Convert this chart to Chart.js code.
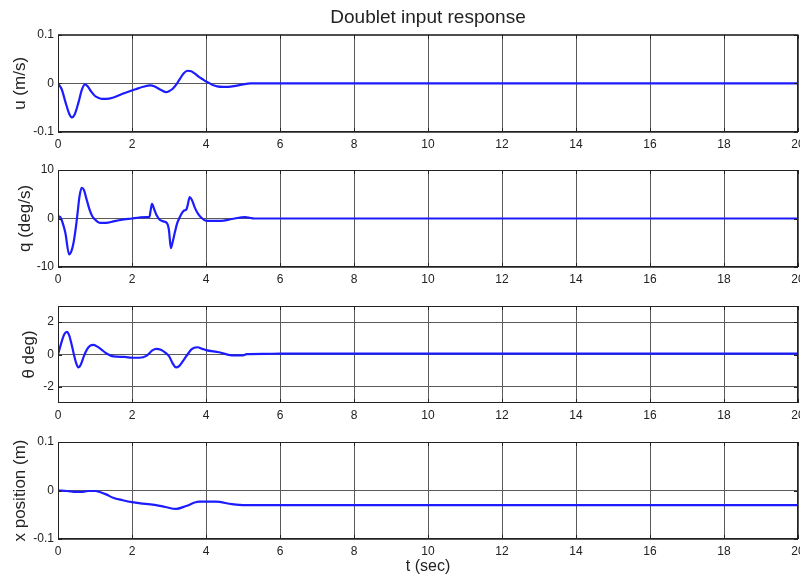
<!DOCTYPE html>
<html>
<head>
<meta charset="utf-8">
<title>Doublet input response</title>
<script src="https://cdn.jsdelivr.net/npm/chart.js@4.4.1/dist/chart.umd.min.js"></script>
<style>
  body { margin: 0; background: #fff; }
  .wrap { position: relative; width: 800px; height: 580px; overflow: hidden; }
  .wrap canvas { position: absolute; left: 0; }
</style>
</head>
<body>
<div class="wrap">
  <canvas id="uChart" width="800" height="157" style="top:0px"></canvas>
  <canvas id="qChart" width="800" height="132" style="top:160px"></canvas>
  <canvas id="thChart" width="800" height="132" style="top:296px"></canvas>
  <canvas id="xChart" width="800" height="148" style="top:432px"></canvas>
</div>
<script>
// time ticks
const timeTicks = [0, 2, 4, 6, 8, 10, 12, 14, 16, 18, 20];

// u (m/s)
const tU = [0, 0.1, 0.2, 0.3, 0.375, 0.45, 0.55, 0.65, 0.73, 0.8, 0.9, 1.0, 1.1, 1.2, 1.3, 1.5, 1.7, 1.9,
  2.1, 2.3, 2.5, 2.6, 2.7, 2.8, 2.92, 3.0, 3.1, 3.2, 3.3, 3.4, 3.5, 3.6, 3.7, 3.8, 3.9, 4.0, 4.1, 4.2,
  4.3, 4.45, 4.6, 4.8, 5.0, 5.2, 5.3, 20];
const uVals = [0, -0.012, -0.038, -0.062, -0.070, -0.064, -0.040, -0.012, -0.002, -0.006, -0.017, -0.026,
  -0.030, -0.032, -0.032, -0.029, -0.023, -0.017, -0.012, -0.007, -0.004, -0.006, -0.010, -0.014, -0.018,
  -0.016, -0.011, -0.002, 0.010, 0.021, 0.026, 0.025, 0.020, 0.014, 0.009, 0.004, 0.000, -0.004, -0.006,
  -0.007, -0.007, -0.005, -0.002, 0, 0, 0];
const uTicks = [-0.1, 0, 0.1];

// q (deg/s)
const tQ = [0, 0.06, 0.13, 0.2, 0.3, 0.36, 0.42, 0.48, 0.53, 0.58, 0.64, 0.7, 0.76, 0.85, 0.93, 1.0, 1.13,
  1.3, 1.5, 1.7, 2.0, 2.2, 2.38, 2.47, 2.5, 2.54, 2.6, 2.67, 2.74, 2.85, 2.95, 3.0, 3.05, 3.1, 3.16, 3.22,
  3.28, 3.34, 3.4, 3.47, 3.5, 3.56, 3.62, 3.7, 3.8, 3.9, 3.98, 4.1, 4.4, 4.7, 5.06, 5.2, 5.3, 20];
const qVals = [0.5, 0.3, -1.0, -3.0, -7.4, -6.8, -5.0, -2.0, 1.2, 4.5, 6.3, 5.9, 4.3, 1.9, 0.4, -0.2, -0.9,
  -0.9, -0.6, -0.3, 0, 0.2, 0.3, 0.3, 1.5, 3.0, 1.9, 0.6, -0.2, -0.6, -1.0, -2.5, -6.1, -4.8, -2.8, -1.0,
  0.1, 1.0, 1.6, 1.9, 2.6, 4.4, 3.8, 2.2, 0.8, 0, -0.4, -0.5, -0.5, -0.1, 0.3, 0.1, 0, 0];
const qTicks = [-10, 0, 10];

// theta (deg)
const tTh = [0, 0.1, 0.17, 0.24, 0.3, 0.36, 0.42, 0.48, 0.55, 0.62, 0.7, 0.78, 0.87, 0.96, 1.05, 1.15, 1.3,
  1.5, 1.8, 2.0, 2.2, 2.4, 2.55, 2.65, 2.78, 2.9, 3.0, 3.1, 3.19, 3.28, 3.38, 3.5, 3.6, 3.68, 3.77, 3.9,
  4.0, 4.35, 4.7, 5.0, 5.1, 5.6, 6.0, 20];
const thVals = [0, 0.8, 1.25, 1.4, 1.2, 0.7, 0.1, -0.45, -0.8, -0.6, -0.1, 0.3, 0.55, 0.6, 0.5, 0.35, 0.08,
  -0.12, -0.15, -0.2, -0.2, -0.07, 0.25, 0.35, 0.3, 0.12, -0.1, -0.55, -0.8, -0.7, -0.4, 0, 0.3, 0.42, 0.45,
  0.35, 0.27, 0.14, -0.05, -0.06, 0.02, 0.04, 0.05, 0.05];
const thTicks = [-2, 0, 2];

// x position (m)
const tX = [0, 0.24, 0.5, 0.64, 0.82, 1.0, 1.13, 1.3, 1.49, 1.75, 2.0, 2.3, 2.65, 2.9, 3.19, 3.46, 3.81,
  4.26, 4.7, 5.06, 20];
const xVals = [0, -0.001, -0.003, -0.003, -0.001, -0.001, -0.003, -0.008, -0.015, -0.020, -0.024, -0.027,
  -0.030, -0.034, -0.038, -0.032, -0.023, -0.023, -0.028, -0.030, -0.030];
const xTicks = [-0.1, 0, 0.1];

Chart.defaults.font.family = '"Liberation Sans", Arial, Helvetica, sans-serif';
Chart.defaults.color = '#222';

const LINE = '#1c1cff';
const GRID = '#5a5a5a';

// MATLAB style box with small inward ticks
const boxPlugin = {
  id: 'box',
  afterDraw(chart) {
    const { ctx, chartArea: a, scales } = chart;
    ctx.save();
    ctx.strokeStyle = '#222';
    ctx.lineWidth = 1;
    ctx.strokeRect(a.left + 0.5, a.top + 0.5, a.right - a.left - 1, a.bottom - a.top - 1);
    ctx.beginPath();
    scales.x.ticks.forEach(t => {
      const px = Math.round(scales.x.getPixelForValue(t.value)) + 0.5;
      ctx.moveTo(px, a.top); ctx.lineTo(px, a.top + 4);
      ctx.moveTo(px, a.bottom); ctx.lineTo(px, a.bottom - 4);
    });
    scales.y.ticks.forEach(t => {
      const py = Math.round(scales.y.getPixelForValue(t.value)) + 0.5;
      ctx.moveTo(a.left, py); ctx.lineTo(a.left + 4, py);
      ctx.moveTo(a.right, py); ctx.lineTo(a.right - 4, py);
    });
    ctx.stroke();
    ctx.restore();
  }
};

function makePanel(id, tArr, vArr, yMin, yMax, yTicks, yLabel, labelPad, opts) {
  const points = tArr.map((t, i) => ({ x: t, y: vArr[i] }));
  return new Chart(document.getElementById(id), {
    type: 'line',
    data: {
      datasets: [{
        data: points,
        borderColor: LINE,
        borderWidth: 2.2,
        pointRadius: 0,
        fill: false,
        cubicInterpolationMode: 'monotone'
      }]
    },
    options: {
      responsive: false,
      animation: false,
      layout: { padding: { top: opts.padTop, right: 2, left: 0, bottom: 0 } },
      plugins: {
        legend: { display: false },
        tooltip: { enabled: false },
        title: opts.title || { display: false }
      },
      scales: {
        x: {
          type: 'linear',
          min: 0,
          max: 20,
          afterBuildTicks: s => { s.ticks = timeTicks.map(v => ({ value: v })); },
          afterFit: s => { s.height = opts.xHeight; s.paddingLeft = 0; s.paddingRight = 0; },
          ticks: { font: { size: 12 }, padding: 5, maxRotation: 0, color: '#222' },
          grid: { color: GRID, lineWidth: 1, drawTicks: false },
          border: { display: false },
          title: opts.xTitle || { display: false }
        },
        y: {
          min: yMin,
          max: yMax,
          afterBuildTicks: s => { s.ticks = yTicks.map(v => ({ value: v })); },
          afterFit: s => { s.width = 58; s.paddingTop = 0; s.paddingBottom = 0; },
          ticks: { font: { size: 12 }, padding: 4, color: '#222', callback: v => String(v) },
          grid: { color: GRID, lineWidth: 1, drawTicks: false },
          border: { display: false },
          title: { display: true, text: yLabel, font: { size: 17 }, color: '#222', padding: { top: labelPad, bottom: 0 } }
        }
      }
    },
    plugins: [boxPlugin]
  });
}

makePanel('uChart', tU, uVals, -0.1, 0.1, uTicks, 'u (m/s)', 10, {
  padTop: 0,
  xHeight: 25,
  title: {
    display: true,
    text: 'Doublet input response',
    fullSize: false,
    font: { size: 19, weight: 'normal' },
    color: '#222',
    padding: { top: 6, bottom: 6 }
  }
});
makePanel('qChart', tQ, qVals, -10, 10, qTicks, 'q (deg/s)', 15, { padTop: 10, xHeight: 25 });
makePanel('thChart', tTh, thVals, -3, 3, thTicks, 'θ deg)', 19, { padTop: 10, xHeight: 25 });
makePanel('xChart', tX, xVals, -0.1, 0.1, xTicks, 'x position (m)', 10, {
  padTop: 10,
  xHeight: 41,
  xTitle: { display: true, text: 't (sec)', font: { size: 16 }, color: '#222', padding: { top: 0, bottom: 4 } }
});
</script>
</body>
</html>
